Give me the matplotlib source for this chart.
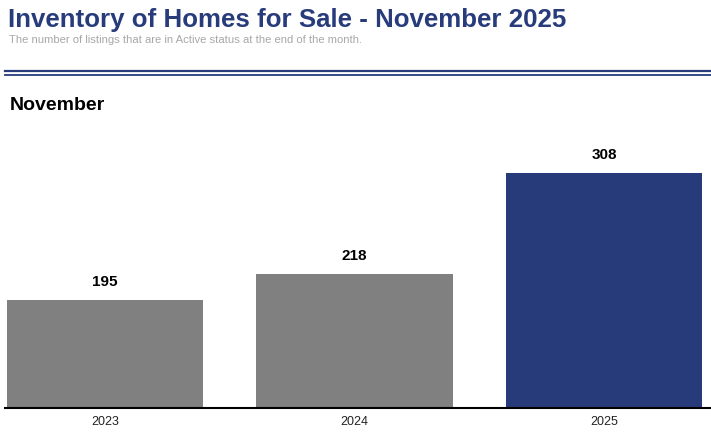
import matplotlib
matplotlib.use("Agg")
import matplotlib.pyplot as plt
from matplotlib.lines import Line2D

years = ["2023", "2024", "2025"]
values = [195, 218, 308]
colors = ["#808080", "#808080", "#273b7b"]

title = "Inventory of Homes for Sale - November 2025"
subtitle = "The number of listings that are in Active status at the end of the month."
panel = "November"

plt.rcParams['font.family'] = ['Liberation Sans', 'DejaVu Sans']

W, H = 711, 434
fig = plt.figure(figsize=(W / 100, H / 100), dpi=100)

def fx(px):
    return px / W

def fy(py):
    return 1 - py / H

fig.text(fx(8), fy(19.5), title, fontsize=18.6, fontweight='bold', color='#283c7c', va='center', ha='left')
fig.text(fx(9), fy(40), subtitle, fontsize=8.1, color='#a8a8a8', va='center', ha='left')
fig.add_artist(Line2D([fx(5), fx(711)], [fy(71), fy(71)], color='#283c7c', lw=1.6))
fig.add_artist(Line2D([fx(5), fx(711)], [fy(74.5), fy(74.5)], color='#283c7c', lw=1.3))
fig.text(fx(10), fy(105), panel, fontsize=14, fontweight='bold', color='#000000', va='center', ha='left')

ax = fig.add_axes([fx(5), fy(408), fx(706), (408 - 130) / H])
x = list(range(len(years)))
bars = ax.bar(x, values, width=0.786, color=colors)
ax.set_xlim(-0.401, 2.429)
ax.set_ylim(99, 346)
for xi, v in zip(x, values):
    ax.annotate(f"{v}", (xi, v), xytext=(0, 8), textcoords='offset points',
                ha='center', va='bottom', fontsize=11, fontweight='bold', color='#000000')
ax.set_xticks(x)
ax.set_xticklabels(years, fontsize=9, color='#222222')
ax.tick_params(axis='x', length=0, pad=6)
ax.set_yticks([])
for s in ['top', 'right', 'left']:
    ax.spines[s].set_visible(False)
ax.spines['bottom'].set_linewidth(1.5)
ax.spines['bottom'].set_color('#000000')

fig.savefig("out.png", dpi=100)
